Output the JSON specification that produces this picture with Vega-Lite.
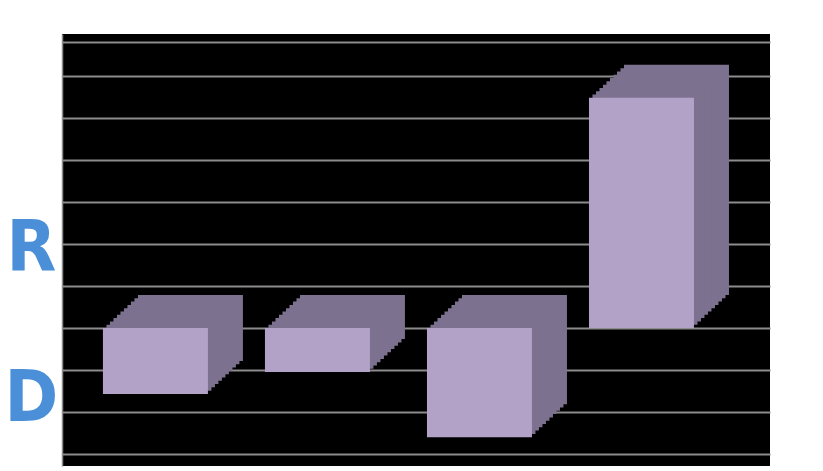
{
  "$schema": "https://vega.github.io/schema/vega-lite/v6.json",
  "width": 708,
  "height": 432,
  "autosize": {"type": "none"},
  "padding": {"left": 62, "top": 34, "right": 53, "bottom": 5},
  "background": "white",
  "config": {"view": {"fill": "#000000", "stroke": null}},
  "data": {"values": [
    {"category": "1", "value": -1.57},
    {"category": "2", "value": -1.05},
    {"category": "3", "value": -2.6},
    {"category": "4", "value": 5.48}
  ]},
  "encoding": {
    "x": {"field": "category", "type": "nominal", "sort": null,
      "scale": {"paddingInner": 0.352, "paddingOuter": 0.361, "align": 0.35},
      "axis": null},
    "y": {"field": "value", "type": "quantitative",
      "scale": {"domain": [-3.286, 7.0], "nice": false, "zero": false},
      "axis": {
        "values": [-3, -2, -1, 0, 1, 2, 3, 4, 5, 6, 6.8],
        "grid": true, "gridColor": "#8c8c8c", "gridWidth": 2,
        "labels": false, "ticks": false,
        "domain": true, "domainColor": "#8c8c8c", "domainWidth": 1.5,
        "title": ["R", "D"],
        "titleAngle": 0,
        "titleFont": "DejaVu Sans Condensed, sans-serif",
        "titleFontSize": 72,
        "titleFontWeight": "bold",
        "titleColor": "#4a8fd8",
        "titleAlign": "center",
        "titleBaseline": "alphabetic",
        "titleX": -31,
        "titleY": 236,
        "titleLineHeight": 150
      }
    }
  },
  "layer": [
    {"mark": {"type": "bar", "color": "#7d7190", "xOffset": 35, "yOffset": -33}},
    {"mark": {"type": "bar", "color": "#7d7190", "xOffset": 31.5, "yOffset": -29.7}},
    {"mark": {"type": "bar", "color": "#7d7190", "xOffset": 28, "yOffset": -26.4}},
    {"mark": {"type": "bar", "color": "#7d7190", "xOffset": 24.5, "yOffset": -23.1}},
    {"mark": {"type": "bar", "color": "#7d7190", "xOffset": 21, "yOffset": -19.8}},
    {"mark": {"type": "bar", "color": "#7d7190", "xOffset": 17.5, "yOffset": -16.5}},
    {"mark": {"type": "bar", "color": "#7d7190", "xOffset": 14, "yOffset": -13.2}},
    {"mark": {"type": "bar", "color": "#7d7190", "xOffset": 10.5, "yOffset": -9.9}},
    {"mark": {"type": "bar", "color": "#7d7190", "xOffset": 7, "yOffset": -6.6}},
    {"mark": {"type": "bar", "color": "#7d7190", "xOffset": 3.5, "yOffset": -3.3}},
    {"mark": {"type": "bar", "color": "#b3a2c8"}}
  ]
}
